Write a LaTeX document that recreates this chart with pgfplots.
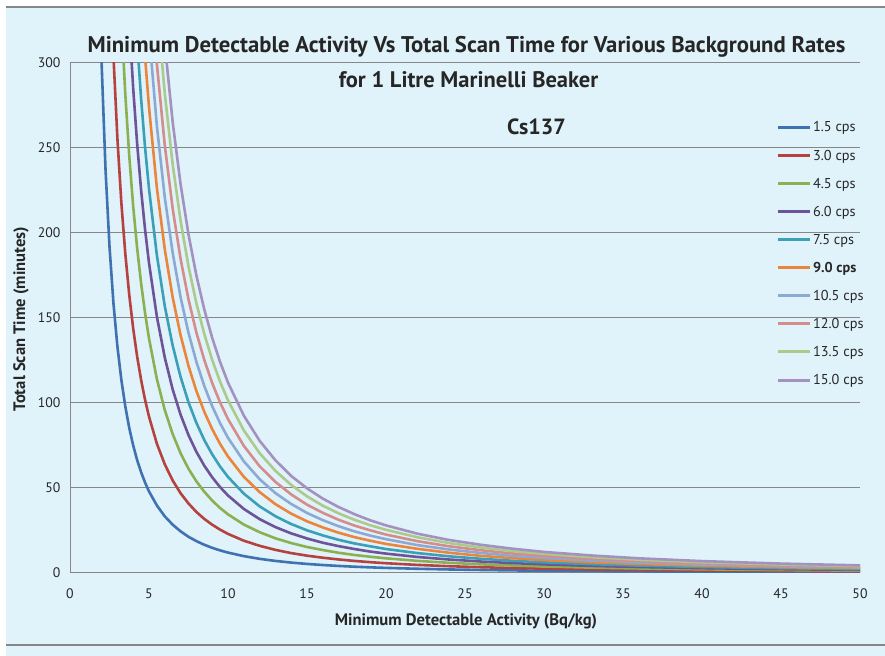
\documentclass[border=0pt]{standalone}
\usepackage{pgfplots}
\pgfplotsset{compat=1.18}
\usepackage{fontspec}
\setmainfont{PT Sans}
\definecolor{bgblue}{HTML}{E0F2FA}
\definecolor{gridgray}{HTML}{868686}
\definecolor{txt}{HTML}{262626}
\definecolor{cA}{HTML}{3F72B0}
\definecolor{cB}{HTML}{B5423F}
\definecolor{cC}{HTML}{8BB052}
\definecolor{cD}{HTML}{6D5397}
\definecolor{cE}{HTML}{3C9FB8}
\definecolor{cF}{HTML}{EC853C}
\definecolor{cG}{HTML}{8CA9D3}
\definecolor{cH}{HTML}{D38E8C}
\definecolor{cI}{HTML}{ABCA8B}
\definecolor{cJ}{HTML}{A392BF}
\begin{document}
\begin{tikzpicture}[x=1bp,y=1bp]
\useasboundingbox (0,0) rectangle (885,656);
\fill[bgblue] (6,0) rectangle (885,649);
\draw[gridgray,line width=1.2bp] (6,649) -- (885,649);
\draw[gridgray,line width=1.2bp] (6,11) -- (885,11);
\node[font=\fontsize{22.7bp}{25bp}\selectfont\bfseries,text=txt] at (466.5,609) {Minimum Detectable Activity Vs Total Scan Time for Various Background Rates};
\node[font=\fontsize{22.5bp}{25bp}\selectfont\bfseries,text=txt] at (468.5,576) {for 1 Litre Marinelli Beaker};
\node[font=\fontsize{22bp}{25bp}\selectfont\bfseries,text=txt] at (536.5,529) {Cs137};
\node[font=\fontsize{16.6bp}{19bp}\selectfont\bfseries,text=txt] at (466,35) {Minimum Detectable Activity (Bq/kg)};
\node[font=\fontsize{16.6bp}{19bp}\selectfont\bfseries,text=txt,rotate=90] at (21,337) {Total Scan Time (minutes)};
\begin{axis}[
  at={(70bp,83bp)}, anchor=south west,
  scale only axis, width=790bp, height=510bp,
  xmin=0, xmax=50, ymin=0, ymax=300,
  xtick={0,5,...,50}, ytick={0,50,...,300},
  axis lines*=left,
  axis line style={gridgray,line width=1bp},
  major tick length=0pt,
  ymajorgrids, grid style={gridgray,line width=1bp},
  tick label style={font=\fontsize{13.8bp}{16bp}\selectfont,text=txt},
  /pgf/number format/assume math mode=true,
  xticklabel style={yshift=-12bp},
  yticklabel style={xshift=-6bp},
  legend style={at={(axis description cs:0.8935,0.889)},anchor=north west,draw=none,fill=none,
    font=\fontsize{14.3bp}{16bp}\selectfont,text=txt,row sep=12.4bp,inner sep=0pt},
  legend cell align=left,
  legend image code/.code={\draw[#1,line width=3bp] (0bp,0bp) -- (32bp,0bp);},
  /tikz/every even column/.append style={column sep=0bp},
  every axis plot/.append style={line width=2.6bp,line join=round},
]
\addplot[cA] coordinates {(1.8,370.4)(2,300)(2.25,237.0)(2.5,192)(2.75,158.7)(3,133.3)(3.25,113.6)(3.5,98.0)(3.75,85.3)(4,75)(4.25,66.4)(4.5,59.3)(4.75,53.2)(5,48)(5.5,39.7)(6,33.3)(6.5,28.4)(7,24.5)(7.5,21.3)(8,18.75)(8.5,16.6)(9,14.8)(9.5,13.3)(10,12)(11,9.92)(12,8.33)(13,7.10)(14,6.12)(15,5.33)(16,4.69)(17,4.15)(18,3.70)(19,3.32)(20,3.0)(22,2.48)(24,2.08)(26,1.78)(28,1.53)(30,1.33)(33,1.10)(36,0.93)(40,0.75)(45,0.59)(50,0.48)};
\addlegendentry{1.5 cps}
\addplot[cB] coordinates {(2.5,368)(2.75,304.1)(3,255.6)(3.25,217.8)(3.5,187.8)(3.75,163.6)(4,143.75)(4.25,127.3)(4.5,113.6)(4.75,101.9)(5,92)(5.5,76.0)(6,63.9)(6.5,54.4)(7,46.9)(7.5,40.9)(8,35.9)(8.5,31.8)(9,28.4)(9.5,25.5)(10,23)(11,19.0)(12,16.0)(13,13.6)(14,11.7)(15,10.2)(16,8.98)(17,7.96)(18,7.10)(19,6.37)(20,5.75)(22,4.75)(24,3.99)(26,3.40)(28,2.93)(30,2.56)(33,2.11)(36,1.77)(40,1.44)(45,1.14)(50,0.92)};
\addlegendentry{3.0 cps}
\addplot[cC] coordinates {(3.25,326.6)(3.5,281.6)(3.75,245.3)(4,215.6)(4.25,191.0)(4.5,170.4)(4.75,152.9)(5,138)(5.5,114.0)(6,95.8)(6.5,81.7)(7,70.4)(7.5,61.3)(8,53.9)(8.5,47.8)(9,42.6)(9.5,38.2)(10,34.5)(11,28.5)(12,24.0)(13,20.4)(14,17.6)(15,15.3)(16,13.5)(17,11.9)(18,10.6)(19,9.56)(20,8.63)(22,7.13)(24,5.99)(26,5.10)(28,4.40)(30,3.83)(33,3.17)(36,2.66)(40,2.16)(45,1.70)(50,1.38)};
\addlegendentry{4.5 cps}
\addplot[cD] coordinates {(3.75,324.3)(4,285)(4.25,252.5)(4.5,225.2)(4.75,202.1)(5,182.4)(5.5,150.7)(6,126.7)(6.5,107.9)(7,93.1)(7.5,81.1)(8,71.25)(8.5,63.1)(9,56.3)(9.5,50.5)(10,45.6)(11,37.7)(12,31.7)(13,27.0)(14,23.3)(15,20.3)(16,17.8)(17,15.8)(18,14.1)(19,12.6)(20,11.4)(22,9.42)(24,7.92)(26,6.75)(28,5.82)(30,5.07)(33,4.19)(36,3.52)(40,2.85)(45,2.25)(50,1.82)};
\addlegendentry{6.0 cps}
\addplot[cE] coordinates {(4.25,312.8)(4.5,279.0)(4.75,250.4)(5,226)(5.5,186.8)(6,156.9)(6.5,133.7)(7,115.3)(7.5,100.4)(8,88.3)(8.5,78.2)(9,69.8)(9.5,62.6)(10,56.5)(11,46.7)(12,39.2)(13,33.4)(14,28.8)(15,25.1)(16,22.1)(17,19.5)(18,17.4)(19,15.7)(20,14.1)(22,11.7)(24,9.81)(26,8.36)(28,7.21)(30,6.28)(33,5.19)(36,4.36)(40,3.53)(45,2.79)(50,2.26)};
\addlegendentry{7.5 cps}
\addplot[cF] coordinates {(4.5,338.3)(4.75,303.6)(5,274)(5.5,226.4)(6,190.3)(6.5,162.1)(7,139.8)(7.5,121.8)(8,107.0)(8.5,94.8)(9,84.6)(9.5,75.9)(10,68.5)(11,56.6)(12,47.6)(13,40.5)(14,34.9)(15,30.4)(16,26.8)(17,23.7)(18,21.1)(19,19.0)(20,17.1)(22,14.2)(24,11.9)(26,10.1)(28,8.74)(30,7.61)(33,6.29)(36,5.29)(40,4.28)(45,3.38)(50,2.74)};
\addlegendentry{\textbf{9.0 cps}}
\addplot[cG] coordinates {(4.75,352.4)(5,318)(5.5,262.8)(6,220.8)(6.5,188.2)(7,162.2)(7.5,141.3)(8,124.2)(8.5,110.0)(9,98.1)(9.5,88.1)(10,79.5)(11,65.7)(12,55.2)(13,47.0)(14,40.6)(15,35.3)(16,31.1)(17,27.5)(18,24.5)(19,22.0)(20,19.9)(22,16.4)(24,13.8)(26,11.8)(28,10.1)(30,8.83)(33,7.30)(36,6.13)(40,4.97)(45,3.93)(50,3.18)};
\addlegendentry{10.5 cps}
\addplot[cH] coordinates {(5,362)(5.25,328.3)(5.5,299.2)(6,251.4)(6.5,214.2)(7,184.7)(7.5,160.9)(8,141.4)(8.5,125.3)(9,111.7)(9.5,100.3)(10,90.5)(11,74.8)(12,62.8)(13,53.6)(14,46.2)(15,40.2)(16,35.4)(17,31.3)(18,27.9)(19,25.1)(20,22.6)(22,18.7)(24,15.7)(26,13.4)(28,11.5)(30,10.1)(33,8.31)(36,6.98)(40,5.66)(45,4.47)(50,3.62)};
\addlegendentry{12.0 cps}
\addplot[cI] coordinates {(5.25,368.3)(5.5,335.5)(6,281.9)(6.5,240.2)(7,207.1)(7.5,180.4)(8,158.6)(8.5,140.5)(9,125.3)(9.5,112.5)(10,101.5)(11,83.9)(12,70.5)(13,60.1)(14,51.8)(15,45.1)(16,39.6)(17,35.1)(18,31.3)(19,28.1)(20,25.4)(22,21.0)(24,17.6)(26,15.0)(28,12.9)(30,11.3)(33,9.32)(36,7.83)(40,6.34)(45,5.01)(50,4.06)};
\addlegendentry{13.5 cps}
\addplot[cJ] coordinates {(5.75,338.8)(6,311.1)(6.5,265.1)(7,228.6)(7.5,199.1)(8,175)(8.5,155.0)(9,138.3)(9.5,124.1)(10,112)(11,92.6)(12,77.8)(13,66.3)(14,57.1)(15,49.8)(16,43.75)(17,38.8)(18,34.6)(19,31.0)(20,28)(22,23.1)(24,19.4)(26,16.6)(28,14.3)(30,12.4)(33,10.3)(36,8.64)(40,7.0)(45,5.53)(50,4.48)};
\addlegendentry{15.0 cps}
\end{axis}
\end{tikzpicture}
\end{document}
